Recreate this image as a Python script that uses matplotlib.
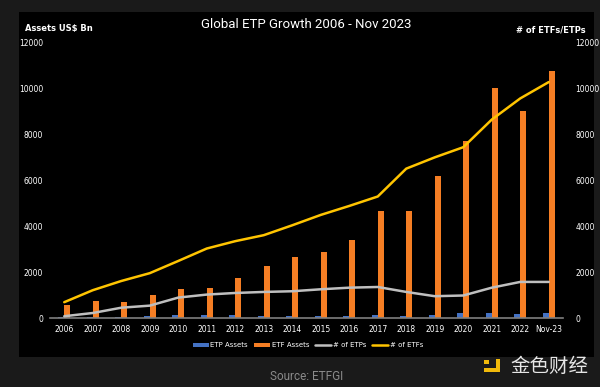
import numpy as np
import matplotlib
matplotlib.use("Agg")
import matplotlib.pyplot as plt
from matplotlib.patches import Rectangle

# ── Data ────────────────────────────────────────────────────
years = ["2006", "2007", "2008", "2009", "2010", "2011", "2012", "2013", "2014",
         "2015", "2016", "2017", "2018", "2019", "2020", "2021", "2022", "Nov-23"]
etp_assets = [50, 50, 40, 100, 145, 145, 160, 100, 100,
              90, 115, 130, 115, 145, 230, 215, 190, 215]
etf_assets = [560, 770, 700, 1010, 1290, 1330, 1750, 2260, 2650,
              2870, 3400, 4670, 4670, 6170, 7700, 10000, 9020, 10750]
n_etps = [90, 230, 460, 550, 900, 1030, 1100, 1145, 1175,
          1260, 1330, 1360, 1145, 960, 990, 1330, 1580, 1580]
n_etfs = [700, 1220, 1620, 1960, 2490, 3030, 3350, 3610, 4040,
          4490, 4880, 5290, 6500, 6990, 7430, 8630, 9550, 10260]
y_ticks = [0, 2000, 4000, 6000, 8000, 10000, 12000]

C_BLUE = "#4472C4"
C_ORANGE = "#F57E24"
C_GRAY = "#BFBFBF"
C_YELLOW = "#FFC400"

fig = plt.figure(figsize=(6, 3.87), dpi=100)
fig.patch.set_facecolor("#1a1a1a")

# black chart panel (drawn behind everything)
fig.patches.append(Rectangle((19 / 600, 1 - 357 / 387), 575 / 600, 345 / 387,
                             transform=fig.transFigure, facecolor="black",
                             edgecolor="none", zorder=-5))

ax = fig.add_axes([50 / 600, 1 - 318.3 / 387, 513 / 600, 276.3 / 387])
ax.set_facecolor("black")
ax2 = ax.twinx()
ax2.patch.set_visible(False)

x = np.arange(len(years))
w = 0.21
ax.bar(x - w / 2, etp_assets, width=w, color=C_BLUE, label="ETP Assets", zorder=2)
ax.bar(x + w / 2, etf_assets, width=w, color=C_ORANGE, label="ETF Assets", zorder=2)
ax2.plot(x, n_etps, color=C_GRAY, lw=1.8, label="# of ETPs", solid_capstyle="round")
ax2.plot(x, n_etfs, color=C_YELLOW, lw=1.8, label="# of ETFs", solid_capstyle="round")

for a in (ax, ax2):
    a.set_ylim(0, 12000)
    a.set_yticks(y_ticks)
    a.set_xlim(-0.5, len(years) - 0.5)
    for s in a.spines.values():
        s.set_visible(False)
    a.tick_params(length=0, colors="white", labelsize=5.5)
ax.spines["bottom"].set_visible(True)
ax.spines["bottom"].set_color("#7f7f7f")
ax.spines["bottom"].set_linewidth(1.2)
ax.set_xticks(x)
ax.set_xticklabels(years)
ax.tick_params(axis="x", pad=5)
ax.tick_params(axis="y", pad=5)
ax2.tick_params(axis="y", pad=9)

fig.text(306 / 600, 1 - 25 / 387, "Global ETP Growth 2006 - Nov 2023",
         color="white", fontsize=9.5, ha="center", va="center", family="Roboto")
fig.text(25 / 600, 1 - 29 / 387, "Assets US$ Bn", color="white", fontsize=6,
         fontweight="bold", ha="left", va="center")
fig.text(586 / 600, 1 - 30 / 387, "# of ETFs/ETPs", color="white", fontsize=6,
         fontweight="bold", ha="right", va="center")

h1, l1 = ax.get_legend_handles_labels()
h2, l2 = ax2.get_legend_handles_labels()
leg = fig.legend(h1 + h2, l1 + l2, loc="center", bbox_to_anchor=(308 / 600, 1 - 345 / 387),
                 ncol=4, frameon=False, fontsize=5, labelcolor="white",
                 handlelength=2.3, handleheight=0.5, columnspacing=0.9, handletextpad=0.2)

fig.text(307 / 600, 1 - 376 / 387, "Source: ETFGI", color="#8a8a8a", fontsize=8.5,
         ha="center", va="center", family="Roboto")

# watermark logo
for (lx, ly, lw_, lh) in [(484, 372, 16, 4), (496, 372, 4, 13), (484, 364, 5, 4)]:
    fig.patches.append(Rectangle((lx / 600, 1 - ly / 387), lw_ / 600, lh / 387,
                                 transform=fig.transFigure, facecolor="#F0B90B", zorder=3))
fig.text(549 / 600, 1 - 366 / 387, "金色财经", color="#e6e6e6", fontsize=14,
         ha="center", va="center", family=["Noto Sans CJK SC", "DejaVu Sans"])

fig.savefig("out.png", dpi=100, facecolor=fig.get_facecolor())
